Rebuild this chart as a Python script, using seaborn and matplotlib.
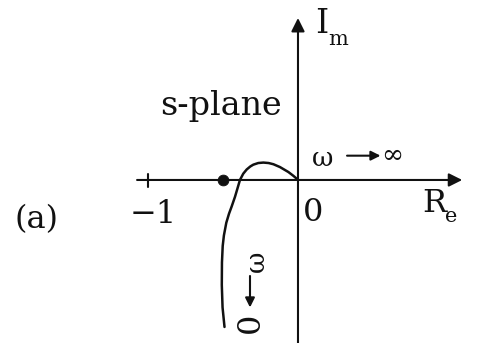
import matplotlib
matplotlib.use("Agg")
import matplotlib.pyplot as plt
import seaborn as sns
import pandas as pd

# Nyquist locus G(jw) from w -> 0 (bottom) to w -> infinity (origin)
locus_re = [-0.49, -0.503, -0.508, -0.507, -0.502, -0.494, -0.478, -0.46, -0.442,
            -0.42, -0.404, -0.387, -0.365, -0.342, -0.318, -0.298, -0.265, -0.231,
            -0.196, -0.164, -0.12, -0.064, -0.03, -0.009, 0.0]
locus_im = [-0.98, -0.85, -0.7, -0.55, -0.44, -0.37, -0.285, -0.225, -0.176,
            -0.112, -0.058, 0.0, 0.042, 0.07, 0.09, 0.102, 0.113, 0.116,
            0.113, 0.105, 0.086, 0.053, 0.027, 0.009, 0.0]

# Real-axis crossing marked with a dot
crossing_re = [-0.5]
crossing_im = [0.0]

# Tick values shown on the real axis
tick_values = [-1, 0]
tick_labels = ["\u22121", "0"]

sns.set_theme(style="white")
plt.rcParams["font.family"] = ["DejaVu Serif", "DejaVu Sans"]

fig = plt.figure(figsize=(5, 3.43), dpi=100)
ax = fig.add_axes([0, 0, 1, 1])
ax.set_xlim(-1.987, 1.347)
ax.set_ylim(-1.087, 1.2)
ax.axis("off")

ink = "#111111"
lw = 1.5

# Axes of the s-plane with arrowheads
ax.annotate("", xy=(1.095, 0.0), xytext=(-1.073, 0.0),
            arrowprops=dict(arrowstyle="-|>", lw=lw, color=ink,
                            mutation_scale=20, shrinkA=0, shrinkB=0))
ax.annotate("", xy=(0.0, 1.08), xytext=(0.0, -1.1),
            arrowprops=dict(arrowstyle="-|>", lw=lw, color=ink,
                            mutation_scale=20, shrinkA=0, shrinkB=0))

# Tick mark at -1
ax.plot([tick_values[0], tick_values[0]], [-0.045, 0.04], color=ink, lw=lw)

# Locus and crossing point
locus = pd.DataFrame({"re": locus_re, "im": locus_im})
sns.lineplot(data=locus, x="re", y="im", sort=False, estimator=None,
             color=ink, lw=1.8, ax=ax)
sns.scatterplot(x=crossing_re, y=crossing_im, color=ink, s=60,
                edgecolor=ink, zorder=5, ax=ax)

# Tick labels
ax.text(tick_values[0] - 0.12, -0.287, tick_labels[0], fontsize=23,
        ha="left", va="baseline", color=ink)
ax.text(tick_values[1] + 0.033, -0.273, tick_labels[1], fontsize=23,
        ha="left", va="baseline", color=ink)

# Axis names
ax.text(0.113, 0.98, "I", fontsize=24, ha="left", va="baseline", color=ink)
ax.text(0.2, 0.9, "m", fontsize=15, ha="left", va="baseline", color=ink)
ax.text(0.827, -0.213, "R", fontsize=23, ha="left", va="baseline", color=ink)
ax.text(0.98, -0.28, "e", fontsize=15, ha="left", va="baseline", color=ink)

# Titles
ax.text(-0.92, 0.433, "s-plane", fontsize=24, ha="left", va="baseline", color=ink)
ax.text(-1.887, -0.32, "(a)", fontsize=23, ha="left", va="baseline", color=ink)

# w -> infinity annotation
ax.text(0.093, 0.093, "\u03c9", fontsize=19, ha="left", va="baseline", color=ink)
ax.annotate("", xy=(0.55, 0.162), xytext=(0.327, 0.162),
            arrowprops=dict(arrowstyle="-|>", lw=1.5, color=ink,
                            mutation_scale=14, shrinkA=0, shrinkB=0))
ax.text(0.627, 0.162, "\u221e", fontsize=19, ha="center", va="center", color=ink)

# w -> 0 annotation (vertical)
ax.text(-0.28, -0.54, "\u03c9", fontsize=19, rotation=90,
        ha="center", va="center", color=ink)
ax.annotate("", xy=(-0.32, -0.85), xytext=(-0.32, -0.64),
            arrowprops=dict(arrowstyle="-|>", lw=1.5, color=ink,
                            mutation_scale=14, shrinkA=0, shrinkB=0))
ax.text(-0.32, -0.955, "0", fontsize=23, rotation=90,
        ha="center", va="center", color=ink)

fig.savefig("out.png", dpi=100, facecolor="white")
